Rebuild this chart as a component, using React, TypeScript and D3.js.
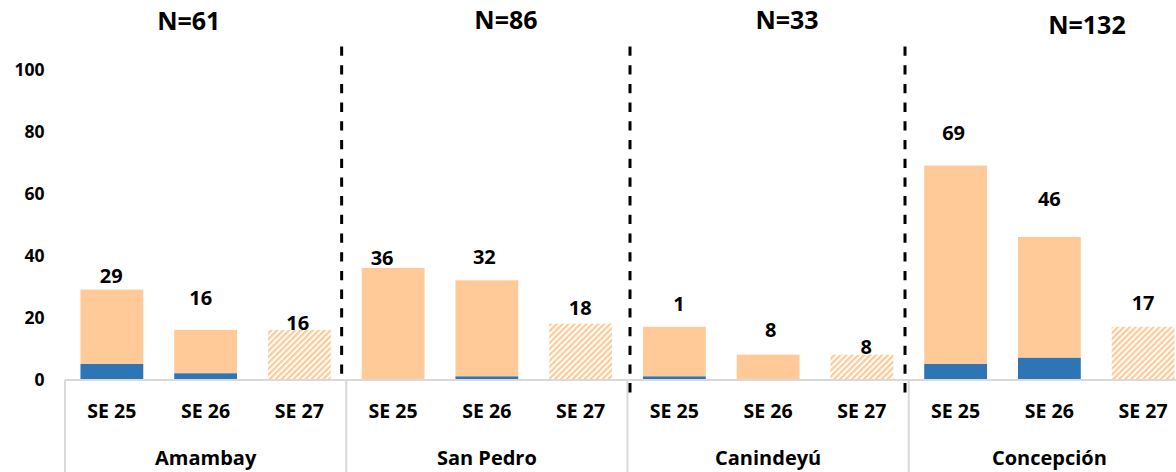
import React from "react";
import * as d3 from "d3";

const groups = ["Amambay", "San Pedro", "Canindeyú", "Concepción"];
const groupTitles = ["N=61", "N=86", "N=33", "N=132"];
const weeks = ["SE 25", "SE 26", "SE 27"];
// bottom (blue) segment and top (orange) segment per group x week
const blueSeries = [5, 2, 0, 0, 1, 0, 1, 0, 0, 5, 7, 0];
const orangeSeries = [24, 14, 16, 36, 31, 18, 16, 8, 8, 64, 39, 17];
const dataLabels = ["29", "16", "16", "36", "32", "18", "1", "8", "8", "69", "46", "17"];
const hatchedWeek = "SE 27";
const yTicks = [0, 20, 40, 60, 80, 100];

// styling offsets (manual label placement in the original)
const labelDx = [-0.6, -4.9, -1.7, -11, -2.5, -0.4, 4.5, 2.7, 4.3, -2, 0, 0];
const labelLift = [13.8, 32.4, 6.9, 10, 23.3, 16.2, 22.8, 25, 8, 32.6, 37.9, 24.3];
const titleDx = [-16.8, 19.1, 18.9, 37.6];
const titleBaseline = [29.5, 28.5, 28.5, 33.5];
const dividerDx = [-4.6, 2.5, -3.75];
const dividerBottom = [378, 395, 393];

const W = 1176;
const H = 472;
const X0 = 65;
const X1 = 1190;
const Y0 = 379.5;
const Y100 = 69.5;
const FONT = "'Open Sans', 'DejaVu Sans', sans-serif";
const ORANGE = "#FFCA97";
const BLUE = "#2E75B6";
const AXIS = "#D9D9D9";

export default function App() {
  const keys: string[] = [];
  groups.forEach((g) => weeks.forEach((w) => keys.push(g + "|" + w)));
  const pad = 0.33;
  const x = d3.scaleBand<string>().domain(keys).range([X0, X1]).paddingInner(pad).paddingOuter(pad / 2);
  const y = d3.scaleLinear().domain([0, 100]).range([Y0, Y100]);
  const step = x.step();
  const bw = x.bandwidth();
  const groupStart = (gi: number) => (x(keys[gi * 3]) as number) - (step * pad) / 2;
  const groupCenter = (gi: number) => groupStart(gi) + (step * 3) / 2;

  return (
    <svg width={W} height={H} style={{ position: "absolute", left: 0, top: 0, background: "#fff" }}>
      <defs>
        <pattern id="hatch" patternUnits="userSpaceOnUse" width={4.2} height={4.2} patternTransform="rotate(45)">
          <rect width={4.2} height={4.2} fill="#fff" />
          <line x1={1.1} y1={0} x2={1.1} y2={4.2} stroke={ORANGE} strokeWidth={2.3} />
        </pattern>
      </defs>

      {/* y tick labels */}
      {yTicks.map((t) => (
        <text key={t} x={44.5} y={y(t) + 6.4} textAnchor="end" fontFamily={FONT} fontWeight={700} fontSize={17.5} fill="#000">
          {t}
        </text>
      ))}

      {/* bars */}
      {keys.map((k, i) => {
        const xi = x(k) as number;
        const b = blueSeries[i];
        const o = orangeSeries[i];
        const hatched = k.endsWith(hatchedWeek);
        return (
          <g key={k}>
            {o > 0 && (
              <rect x={xi} y={y(b + o)} width={bw} height={y(b) - y(b + o)} fill={hatched ? "url(#hatch)" : ORANGE} />
            )}
            {b > 0 && <rect x={xi} y={y(b)} width={bw} height={y(0) - y(b)} fill={BLUE} />}
          </g>
        );
      })}

      {/* data labels */}
      {keys.map((k, i) => {
        const cx = (x(k) as number) + bw / 2 + labelDx[i];
        const top = y(blueSeries[i] + orangeSeries[i]);
        return (
          <text key={"l" + k} x={cx} y={top - labelLift[i] + 7.2} textAnchor="middle" fontFamily={FONT} fontWeight={700} fontSize={20} fill="#000">
            {dataLabels[i]}
          </text>
        );
      })}

      {/* category axis */}
      <line x1={X0} x2={W} y1={380} y2={380} stroke={AXIS} strokeWidth={2} />
      {groups.map((g, gi) => (
        <line key={"sep" + g} x1={groupStart(gi)} x2={groupStart(gi)} y1={380} y2={H} stroke={AXIS} strokeWidth={2} />
      ))}
      {keys.map((k) => (
        <text key={"w" + k} x={(x(k) as number) + bw / 2} y={418.3} textAnchor="middle" fontFamily={FONT} fontWeight={700} fontSize={19.5} fill="#000">
          {k.split("|")[1]}
        </text>
      ))}
      {groups.map((g, gi) => (
        <text key={"g" + g} x={groupCenter(gi)} y={465} textAnchor="middle" fontFamily={FONT} fontWeight={700} fontSize={20} fill="#000">
          {g}
        </text>
      ))}

      {/* group titles */}
      {groupTitles.map((t, gi) => (
        <text key={"t" + t} x={groupCenter(gi) + titleDx[gi]} y={titleBaseline[gi]} textAnchor="middle" fontFamily={FONT} fontWeight={700} fontSize={25} fill="#000">
          {t}
        </text>
      ))}

      {/* dashed dividers */}
      {dividerDx.map((dx, i) => {
        const gx = groupStart(i + 1) + dx;
        return (
          <line key={"d" + i} x1={gx} x2={gx} y1={46.5} y2={dividerBottom[i]} stroke="#000" strokeWidth={3} strokeDasharray="9.3 9.4" />
        );
      })}
    </svg>
  );
}
